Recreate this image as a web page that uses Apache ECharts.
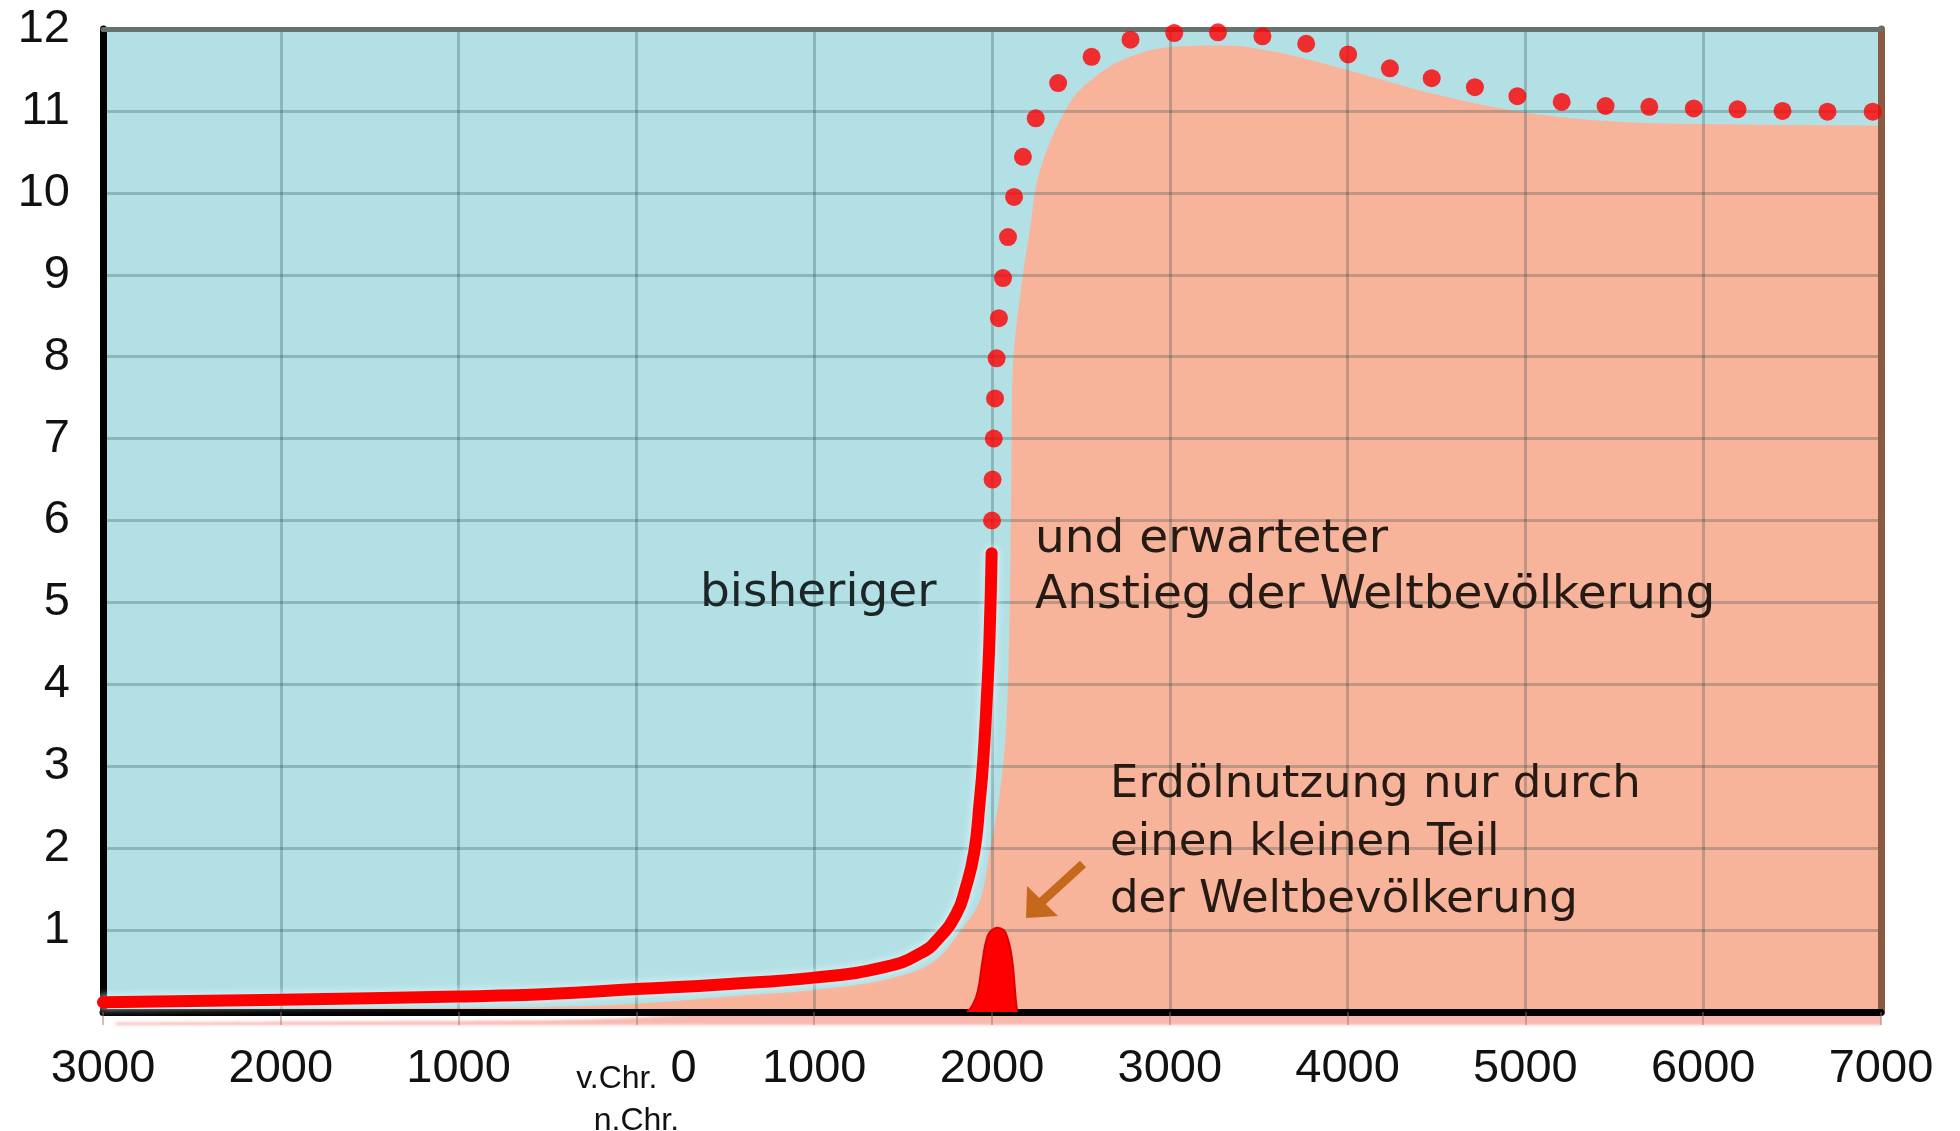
<!DOCTYPE html>
<html>
<head>
<meta charset="utf-8">
<title>Anstieg der Weltbevölkerung</title>
<script src="https://cdn.jsdelivr.net/npm/echarts@6/dist/echarts.min.js"></script>
<style>
  html, body { margin: 0; padding: 0; background: #fff; }
  #chart { width: 1960px; height: 1131px; }
</style>
</head>
<body>
<div id="chart"></div>
<script>
// Achsen: Jahre von 3000 v.Chr. bis 7000 n.Chr., Weltbevölkerung in Mrd.
var xMin = -3000, xMax = 7000, xStep = 1000;
var xTickLabels = ['3000', '2000', '1000', '0', '1000', '2000', '3000', '4000', '5000', '6000', '7000'];
var eraLabels = ['v.Chr.', 'n.Chr.'];
var yTickLabels = ['', '1', '2', '3', '4', '5', '6', '7', '8', '9', '10', '11', '12'];

// bisheriger Anstieg (rote Linie)
var histYears  = [-3000, -2000, -1000, -500, 0, 500, 1000, 1400, 1600, 1700, 1800, 1850, 1900, 1930, 1950, 1970, 1985, 1998];
var histValues = [0.12, 0.15, 0.19, 0.22, 0.28, 0.34, 0.42, 0.55, 0.72, 0.9, 1.2, 1.5, 1.95, 2.55, 3.05, 3.8, 4.5, 5.6];

// erwarteter Anstieg (Punkte)
var forecastYears  = [2000, 2003, 2010, 2017, 2026, 2039, 2062, 2090, 2124, 2174, 2246, 2372, 2560, 2779,
                      3025, 3271, 3521, 3767, 4003, 4238, 4473, 4716, 4955, 5204, 5451, 5697, 5947, 6193, 6446, 6699, 6953];
var forecastValues = [6.0, 6.5, 7.0, 7.49, 7.98, 8.47, 8.96, 9.46, 9.95, 10.44, 10.91, 11.34, 11.66, 11.87,
                      11.95, 11.96, 11.91, 11.82, 11.69, 11.52, 11.4, 11.29, 11.18, 11.11, 11.06, 11.05, 11.03, 11.02, 11.0, 10.99, 10.99];

// Fläche unter der Kurve (lachsfarben)
var areaYears  = [-3000, -2000, -1000, -500, 0, 640, 1000, 1388, 1669, 1852, 1920, 1960, 1990, 2040, 2080, 2100, 2110, 2118,
                  2157, 2213, 2270, 2438, 2600, 2775, 3000, 3300, 3600, 4000, 4500, 5000, 5500, 6000, 7000];
var areaValues = [0.03, 0.04, 0.05, 0.06, 0.1, 0.21, 0.27, 0.39, 0.61, 1.08, 1.3, 1.6, 2.0, 2.6, 3.5, 5.0, 6.9, 7.9,
                  8.73, 9.55, 10.28, 11.1, 11.45, 11.66, 11.78, 11.8, 11.72, 11.5, 11.2, 10.98, 10.87, 10.84, 10.82];

// Erdölnutzung
var oilYears  = [1860, 1890, 1920, 1945, 1962, 1980, 2000, 2030, 2065, 2085, 2105, 2118, 2128, 2135, 2142];
var oilValues = [0, 0.08, 0.25, 0.6, 0.82, 0.95, 1.0, 1.03, 1.0, 0.92, 0.75, 0.55, 0.3, 0.12, 0];

function pairs(xs, ys) {
    var res = [];
    for (var i = 0; i < xs.length; i++) {
        res.push([xs[i], ys[i]]);
    }
    return res;
}

var chart = echarts.init(document.getElementById('chart'));

var labelFont = 'Liberation Sans';
var noteFont = 'DejaVu Sans';
var gridLine = 'rgba(20,60,60,0.25)';

var option = {
    animation: false,
    grid: {
        left: 103, right: 79, top: 29, bottom: 119,
        show: true,
        backgroundColor: '#b3e0e5',
        borderWidth: 0,
        outerBoundsMode: 'none'
    },
    xAxis: [{
        type: 'value',
        min: xMin, max: xMax, interval: xStep,
        z: 2,
        axisLine: { show: true, onZero: false, lineStyle: { color: '#000', width: 7 } },
        axisTick: { show: true, length: 13, lineStyle: { color: 'rgba(160,110,100,0.45)', width: 2 } },
        splitLine: { show: true, lineStyle: { color: gridLine, width: 3 } },
        axisLabel: {
            margin: 31,
            lineHeight: 52,
            fontSize: 47,
            fontFamily: labelFont,
            color: '#111',
            formatter: function (v) {
                var i = Math.round((v - xMin) / xStep);
                var t = xTickLabels[i];
                if (v === 0) {
                    return '{s|' + eraLabels[0] + '}{b| ' + t + '}\n{s|' + eraLabels[1] + '}';
                }
                return t;
            },
            rich: {
                s: { fontSize: 32, lineHeight: 42, verticalAlign: 'bottom', fontFamily: labelFont, color: '#111' },
                b: { fontSize: 47, lineHeight: 52, fontFamily: labelFont, color: '#111' }
            }
        }
    }, {
        type: 'value',
        position: 'top',
        min: xMin, max: xMax, interval: xStep,
        z: 2,
        axisLine: { show: true, onZero: false, lineStyle: { color: '#66726f', width: 5 } },
        axisTick: { show: false },
        axisLabel: { show: false },
        splitLine: { show: false }
    }],
    yAxis: [{
        type: 'value',
        min: 0, max: 12, interval: 1,
        z: 2,
        axisLine: { show: true, onZero: false, lineStyle: { color: '#000', width: 7 } },
        axisTick: { show: false },
        splitLine: { show: true, lineStyle: { color: gridLine, width: 3 } },
        axisLabel: {
            margin: 33,
            fontSize: 47,
            fontFamily: labelFont,
            color: '#111',
            formatter: function (v) {
                return yTickLabels[Math.round(v)];
            }
        }
    }, {
        type: 'value',
        position: 'right',
        min: 0, max: 12, interval: 1,
        z: 2,
        axisLine: { show: true, onZero: false, lineStyle: { color: '#8a5a42', width: 7 } },
        axisTick: { show: false },
        axisLabel: { show: false },
        splitLine: { show: false }
    }],
    series: [
        {
            name: 'Fläche',
            type: 'line',
            z: 1,
            silent: true,
            clip: false,
            smooth: 0.35,
            showSymbol: false,
            lineStyle: { width: 0, opacity: 0 },
            areaStyle: {
                color: '#f8b49b',
                opacity: 1,
                shadowColor: 'rgba(245,160,150,0.75)',
                shadowBlur: 3,
                shadowOffsetX: 13,
                shadowOffsetY: 13
            },
            data: pairs(areaYears, areaValues)
        },
        {
            name: 'Erdölnutzung',
            type: 'line',
            z: 3,
            smooth: 0.4,
            showSymbol: false,
            lineStyle: { color: '#e00000', width: 2 },
            areaStyle: { color: '#ff0000', opacity: 1 },
            data: pairs(oilYears, oilValues)
        },
        {
            name: 'bisheriger Anstieg',
            type: 'line',
            z: 4,
            smooth: 0.5,
            showSymbol: false,
            lineStyle: {
                color: '#ff0000',
                width: 12,
                cap: 'round',
                join: 'round',
                shadowColor: 'rgba(230,252,255,0.9)',
                shadowBlur: 8
            },
            data: pairs(histYears, histValues)
        },
        {
            name: 'erwarteter Anstieg',
            type: 'scatter',
            z: 4,
            symbol: 'circle',
            symbolSize: 18,
            itemStyle: { color: '#ff0000' },
            data: pairs(forecastYears, forecastValues)
        }
    ],
    graphic: [
        { type: 'text', z: 10, x: 700, y: 594,
          style: { text: 'bisheriger', fontSize: 47, fontFamily: noteFont, fill: '#1c2626', verticalAlign: 'middle' } },
        { type: 'text', z: 10, x: 1035, y: 540,
          style: { text: 'und erwarteter', fontSize: 47, fontFamily: noteFont, fill: '#261a14', verticalAlign: 'middle' } },
        { type: 'text', z: 10, x: 1035, y: 596,
          style: { text: 'Anstieg der Weltbevölkerung', fontSize: 47, fontFamily: noteFont, fill: '#261a14', verticalAlign: 'middle' } },
        { type: 'text', z: 10, x: 1110, y: 785,
          style: { text: 'Erdölnutzung nur durch', fontSize: 45, fontFamily: noteFont, fill: '#261a14', verticalAlign: 'middle' } },
        { type: 'text', z: 10, x: 1110, y: 843,
          style: { text: 'einen kleinen Teil', fontSize: 45, fontFamily: noteFont, fill: '#261a14', verticalAlign: 'middle' } },
        { type: 'text', z: 10, x: 1110, y: 900,
          style: { text: 'der Weltbevölkerung', fontSize: 45, fontFamily: noteFont, fill: '#261a14', verticalAlign: 'middle' } },
        // Pfeil auf die Erdölnutzung
        { type: 'line', z: 10,
          shape: { x1: 1083, y1: 864, x2: 1037, y2: 906 },
          style: { stroke: '#c4681c', lineWidth: 9 } },
        { type: 'polygon', z: 10,
          shape: { points: [[1026, 918], [1027, 886], [1058, 916]] },
          style: { fill: '#c4681c' } }
    ]
};

chart.setOption(option);

window.addEventListener('resize', function () {
    chart.resize();
});
</script>
</body>
</html>
